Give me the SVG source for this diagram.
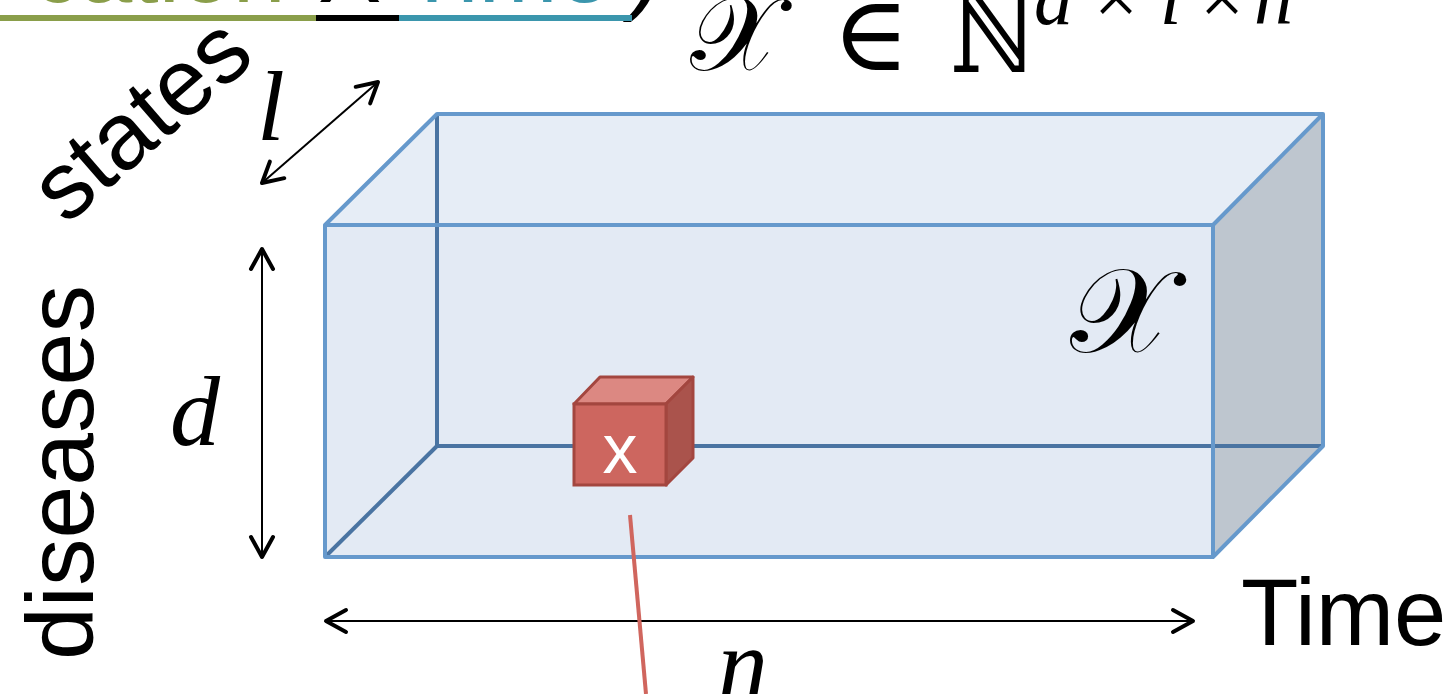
<svg xmlns="http://www.w3.org/2000/svg" width="1450" height="694" viewBox="0 0 1450 694">
<style>
.sans{font-family:"Liberation Sans",Arial,sans-serif}
.math{font-family:"Liberation Serif","Times New Roman",serif;font-style:italic}
.edge{stroke:#6699cc;stroke-width:4;fill:none;stroke-linejoin:round}
.hidden{stroke:#4a74a2;stroke-width:4;fill:none}
.dim{stroke:#000;stroke-width:2;fill:none}
</style>
<defs>
<marker id="chev" markerUnits="userSpaceOnUse" markerWidth="40" markerHeight="40" viewBox="-30 -20 40 40" refX="0" refY="0" orient="auto-start-reverse" overflow="visible">
<path d="M-20,-11 L0,0 L-20,11" fill="none" stroke="#000" stroke-width="4" stroke-linecap="round" stroke-linejoin="round"/>
</marker>
</defs>
<rect width="1450" height="694" fill="#fff"/>

<g id="title">
<text class="sans" y="2" font-size="95"><tspan x="32" fill="#8a9e4a">cation</tspan><tspan x="318" fill="#000">X</tspan><tspan x="403" fill="#3b96ad">Time</tspan><tspan x="632" fill="#000" font-style="italic">)</tspan></text>
<rect x="0" y="15" width="316" height="6" fill="#8a9e4a"/>
<rect x="316" y="15" width="83" height="6" fill="#000"/>
<rect x="399" y="15" width="233" height="6" fill="#3b96ad"/>
</g>

<g id="formula">
<text y="70" font-size="105" font-family="'DejaVu Serif',serif" fill="#000"><tspan x="690">𝒳</tspan><tspan x="832">∈</tspan></text>
<text x="950" y="72" font-size="112" font-family="'DejaVu Serif',serif" fill="#000" transform="translate(950,72) scale(0.85,1) translate(-950,-72)">ℕ</text>
<text class="math" y="24" font-size="78" fill="#000"><tspan x="1034">d</tspan><tspan x="1094" font-style="normal">×</tspan><tspan x="1160">l</tspan><tspan x="1200" font-style="normal">×</tspan><tspan x="1254">n</tspan></text>
</g>

<g id="tensor">
<polygon points="325,225 437,114 1323,114 1213,225" fill="#e6edf6"/>
<rect x="325" y="225" width="888" height="332" fill="#e3eaf4"/>
<polygon points="1213,225 1323,114 1323,446 1213,557" fill="#bec6cf"/>
<line class="hidden" x1="437" y1="116" x2="437" y2="446"/>
<line class="hidden" x1="437" y1="446" x2="1323" y2="446"/>
<line class="hidden" x1="437" y1="446" x2="327" y2="555"/>
<polygon class="edge" points="325,225 437,114 1323,114 1323,446 1213,557 325,557"/>
<polyline class="edge" points="325,225 1213,225 1213,557"/>
<line class="edge" x1="1213" y1="225" x2="1323" y2="114"/>
<text x="1070" y="352" font-size="120" font-family="'DejaVu Serif',serif" fill="#000">𝒳</text>
</g>

<g id="cell">
<polygon points="574,404 600,377 693,377 666,404" fill="#dc8882" stroke="#a3463f" stroke-width="3" stroke-linejoin="round"/>
<polygon points="666,404 693,377 693,458 666,485" fill="#aa534c" stroke="#a3463f" stroke-width="3" stroke-linejoin="round"/>
<rect x="574" y="404" width="92" height="81" fill="#cd665f" stroke="#a3463f" stroke-width="3"/>
<text class="sans" x="620" y="473" font-size="70" fill="#fff" text-anchor="middle">x</text>
</g>

<g id="labels">
<text class="sans" font-size="95" fill="#000" transform="translate(93,660) rotate(-90)">diseases</text>
<text class="sans" font-size="95" fill="#000" transform="translate(66,226) rotate(-41)">states</text>
<text class="sans" font-size="94" fill="#000" x="1241" y="645">Time</text>
<text class="math" font-size="100" fill="#000" x="257" y="140">l</text>
<text class="math" font-size="100" fill="#000" x="170" y="445">d</text>
<text class="math" font-size="100" fill="#000" x="718" y="697">n</text>
</g>

<g id="connectors">
<line class="dim" x1="262" y1="183" x2="378" y2="82" marker-start="url(#chev)" marker-end="url(#chev)"/>
<line class="dim" x1="262" y1="249" x2="262" y2="557" marker-start="url(#chev)" marker-end="url(#chev)"/>
<line class="dim" x1="326" y1="621" x2="1193" y2="621" marker-start="url(#chev)" marker-end="url(#chev)"/>
<line x1="630" y1="515" x2="646" y2="694" stroke="#d0665e" stroke-width="4"/>
</g>
</svg>
